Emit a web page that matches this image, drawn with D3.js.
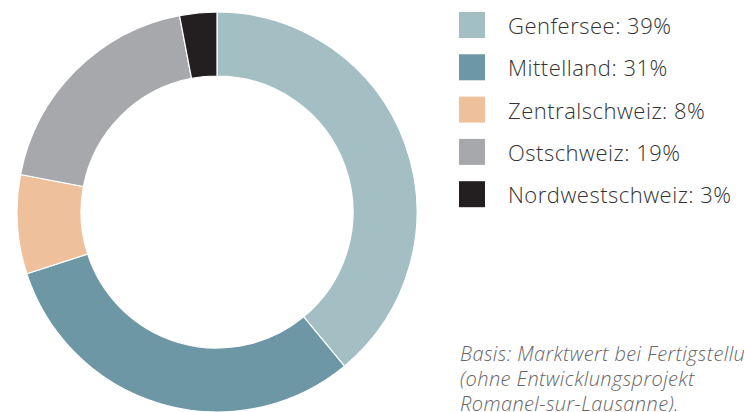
<!DOCTYPE html>
<html>
<head>
<meta charset="utf-8">
<script src="https://cdn.jsdelivr.net/npm/d3@7"></script>
<style>
    body { margin: 0; background: #fff; }
    #chart { width: 744px; height: 412px; }
    .legend text { font-family: "Open Sans", sans-serif; font-size: 22px; font-weight: 300; letter-spacing: 0.5px; fill: #333; }
    .note { font-family: "Open Sans", sans-serif; font-size: 20px; font-weight: 300; font-style: italic; letter-spacing: 0.4px; fill: #666; }
</style>
</head>
<body>
<div id="chart"></div>
<script>
var regions = ["Genfersee", "Mittelland", "Zentralschweiz", "Ostschweiz", "Nordwestschweiz"];
var shares = [39, 31, 8, 19, 3];
var colors = ["#a3bfc4", "#6e97a5", "#eec09c", "#a7a8ac", "#231f20"];
var noteLines = ["Basis: Marktwert bei Fertigstellung", "(ohne Entwicklungsprojekt", "Romanel-sur-Lausanne)."];

var width = 744, height = 412;

var svg = d3.select("#chart")
    .append("svg")
    .attr("width", width)
    .attr("height", height);

var data = regions.map(function(r, i) {
    return { name: r, value: shares[i], color: colors[i] };
});

/*
DONUT
*/
var pie = d3.pie()
    .sort(null)
    .value(function(d) { return d.value; });

var arc = d3.arc()
    .innerRadius(136)
    .outerRadius(200);

var donut = svg.append("g")
    .attr("transform", "translate(217,212)");

donut.selectAll("path")
    .data(pie(data))
    .enter()
    .append("path")
    .attr("d", arc)
    .attr("fill", function(d) { return d.data.color; })
    .attr("stroke", "#fff")
    .attr("stroke-width", 1.2);

/*
LEGEND
*/
var yScale = d3.scaleBand()
    .domain(regions)
    .range([3, 3 + 42.3 * regions.length]);

var legend = svg.append("g")
    .attr("class", "legend");

var items = legend.selectAll("g")
    .data(data)
    .enter()
    .append("g")
    .attr("transform", function(d) { return "translate(459," + yScale(d.name) + ")"; });

items.append("rect")
    .attr("x", 0)
    .attr("y", 9)
    .attr("width", 26)
    .attr("height", 26)
    .attr("fill", function(d) { return d.color; });

items.append("text")
    .attr("x", 49)
    .attr("y", 31)
    .text(function(d) { return d.name + ": " + d.value + "%"; });

/*
NOTE
*/
svg.append("text")
    .attr("class", "note")
    .selectAll("tspan")
    .data(noteLines)
    .enter()
    .append("tspan")
    .attr("x", 460)
    .attr("y", function(d, i) { return 361 + i * 25; })
    .text(function(d) { return d; });
</script>
</body>
</html>
